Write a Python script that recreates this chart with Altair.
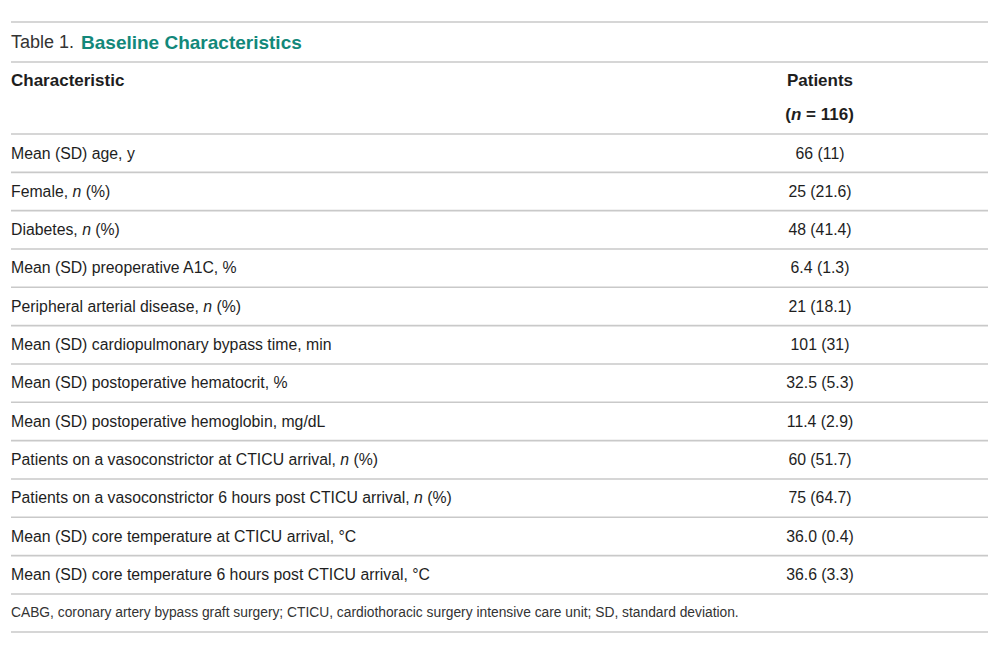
import altair as alt
import pandas as pd

# ---------------- data ----------------
title_prefix = "Table 1."
title_main = "Baseline Characteristics"
col_header_left = "Characteristic"
col_header_right = "Patients"
col_header_n = "116"

characteristics = [
    "Mean (SD) age, y",
    "Female, n (%)",
    "Diabetes, n (%)",
    "Mean (SD) preoperative A1C, %",
    "Peripheral arterial disease, n (%)",
    "Mean (SD) cardiopulmonary bypass time, min",
    "Mean (SD) postoperative hematocrit, %",
    "Mean (SD) postoperative hemoglobin, mg/dL",
    "Patients on a vasoconstrictor at CTICU arrival, n (%)",
    "Patients on a vasoconstrictor 6 hours post CTICU arrival, n (%)",
    "Mean (SD) core temperature at CTICU arrival, °C",
    "Mean (SD) core temperature 6 hours post CTICU arrival, °C",
]
patients = [
    "66 (11)", "25 (21.6)", "48 (41.4)", "6.4 (1.3)", "21 (18.1)", "101 (31)",
    "32.5 (5.3)", "11.4 (2.9)", "60 (51.7)", "75 (64.7)", "36.0 (0.4)", "36.6 (3.3)",
]
footnote = ("CABG, coronary artery bypass graft surgery; CTICU, cardiothoracic surgery "
            "intensive care unit; SD, standard deviation.")

# ---------------- layout ----------------
FONT = "Liberation Sans"
BODY = 15.8
HEAD = 17
TITLE = 18
TITLE_MAIN = 19
FOOT = 13.8
X_LEFT = 11
X_RIGHT = 988
X_VAL = 820
ROW0 = 153.5
ROW_H = 38.33
TXT = "#1e1e1e"
TEAL = "#12887a"
LINE = "#c9c9c9"

# Arial / Liberation Sans advance widths (per 1000 em)
REG = {' ': 278, ',': 278, '(': 333, ')': 333, '%': 889, '.': 278, '=': 584, '/': 278,
       'A': 667, 'B': 667, 'C': 722, 'D': 722, 'E': 667, 'F': 611, 'G': 778, 'H': 722,
       'I': 278, 'J': 500, 'K': 667, 'L': 556, 'M': 833, 'N': 722, 'O': 778, 'P': 667,
       'Q': 778, 'R': 722, 'S': 667, 'T': 611, 'U': 722, 'V': 667, 'W': 944, 'X': 667,
       'Y': 667, 'Z': 611, 'a': 556, 'b': 556, 'c': 500, 'd': 556, 'e': 556, 'f': 278,
       'g': 556, 'h': 556, 'i': 222, 'j': 222, 'k': 500, 'l': 222, 'm': 833, 'n': 556,
       'o': 556, 'p': 556, 'q': 556, 'r': 333, 's': 500, 't': 278, 'u': 556, 'v': 500,
       'w': 722, 'x': 500, 'y': 500, 'z': 500}
BOLD = {' ': 278, '(': 333, ')': 333, '=': 584, 'n': 611}
for d in "0123456789":
    REG[d] = 556
    BOLD[d] = 556


def width(s, size, table):
    return sum(table.get(c, 556) for c in s) * size / 1000.0


rows_y = [ROW0 + i * ROW_H for i in range(len(characteristics))]

regular, italic, bold, bolditalic, values_rows = [], [], [], [], []
suffix = "n (%)"
for label, val, y in zip(characteristics, patients, rows_y):
    if label.endswith(suffix):
        pre = label[: -len(suffix)]
        regular.append({"x": X_LEFT, "y": y, "t": pre.rstrip()})
        xn = X_LEFT + width(pre, BODY, REG)
        italic.append({"x": xn, "y": y, "t": "n"})
        regular.append({"x": xn + width("n ", BODY, REG), "y": y, "t": "(%)"})
    else:
        regular.append({"x": X_LEFT, "y": y, "t": label})
    values_rows.append({"x": X_VAL, "y": y, "t": val})

# header
HEAD_Y1, HEAD_Y2 = 81, 115
bold.append({"x": X_LEFT, "y": HEAD_Y1, "t": col_header_left})
head_center = [{"x": X_VAL, "y": HEAD_Y1, "t": col_header_right}]
p1, p2, p3 = "(", "n", " = " + col_header_n + ")"
tot = width(p1 + p2 + p3, HEAD, BOLD)
x0 = X_VAL - tot / 2
bold.append({"x": x0, "y": HEAD_Y2, "t": p1})
bolditalic.append({"x": x0 + width(p1, HEAD, BOLD), "y": HEAD_Y2, "t": p2})
bold.append({"x": x0 + width(p1 + p2 + " ", HEAD, BOLD), "y": HEAD_Y2, "t": p3.strip()})

# rules
rule_y = [22, 62, 134] + [134 + (i + 1) * ROW_H for i in range(len(characteristics))] + [632]
rules = pd.DataFrame({"y": rule_y, "x": X_LEFT, "x2": X_RIGHT})

# ---------------- chart ----------------
W, H = 984, 645
xs = alt.Scale(domain=[8, 8 + W], range=[0, W])
ys = alt.Scale(domain=[8, 8 + H], range=[0, H])


def enc(ch):
    return ch.encode(
        x=alt.X("x:Q", scale=xs, axis=None),
        y=alt.Y("y:Q", scale=ys, axis=None),
        text="t:N",
    )


def text_layer(rows, size, weight="normal", style="normal", color=TXT, align="left"):
    return enc(
        alt.Chart(pd.DataFrame(rows)).mark_text(
            font=FONT, fontSize=size, fontWeight=weight, fontStyle=style,
            color=color, align=align, baseline="middle",
        )
    )


rule_layer = alt.Chart(rules).mark_rule(color=LINE, strokeWidth=1.6).encode(
    x=alt.X("x:Q", scale=xs, axis=None),
    x2="x2:Q",
    y=alt.Y("y:Q", scale=ys, axis=None),
)

title_x2 = X_LEFT + width(title_prefix + " ", TITLE, REG)
layers = [
    rule_layer,
    text_layer([{"x": X_LEFT, "y": 43, "t": title_prefix}], TITLE, color="#333333"),
    text_layer([{"x": title_x2, "y": 43, "t": title_main}], TITLE_MAIN, weight="bold", color=TEAL),
    text_layer(bold, HEAD, weight="bold"),
    text_layer(bolditalic, HEAD, weight="bold", style="italic"),
    text_layer(head_center, HEAD, weight="bold", align="center"),
    text_layer(regular, BODY),
    text_layer(italic, BODY, style="italic"),
    text_layer(values_rows, BODY, align="center"),
    text_layer([{"x": X_LEFT, "y": 613, "t": footnote}], FOOT, color="#333333"),
]

chart = alt.layer(*layers).properties(
    width=W, height=H, padding=0, autosize=alt.AutoSizeParams(type="none")
).configure_view(stroke=None)

chart.save("out.html", embed_options={"renderer": "svg", "actions": False})
